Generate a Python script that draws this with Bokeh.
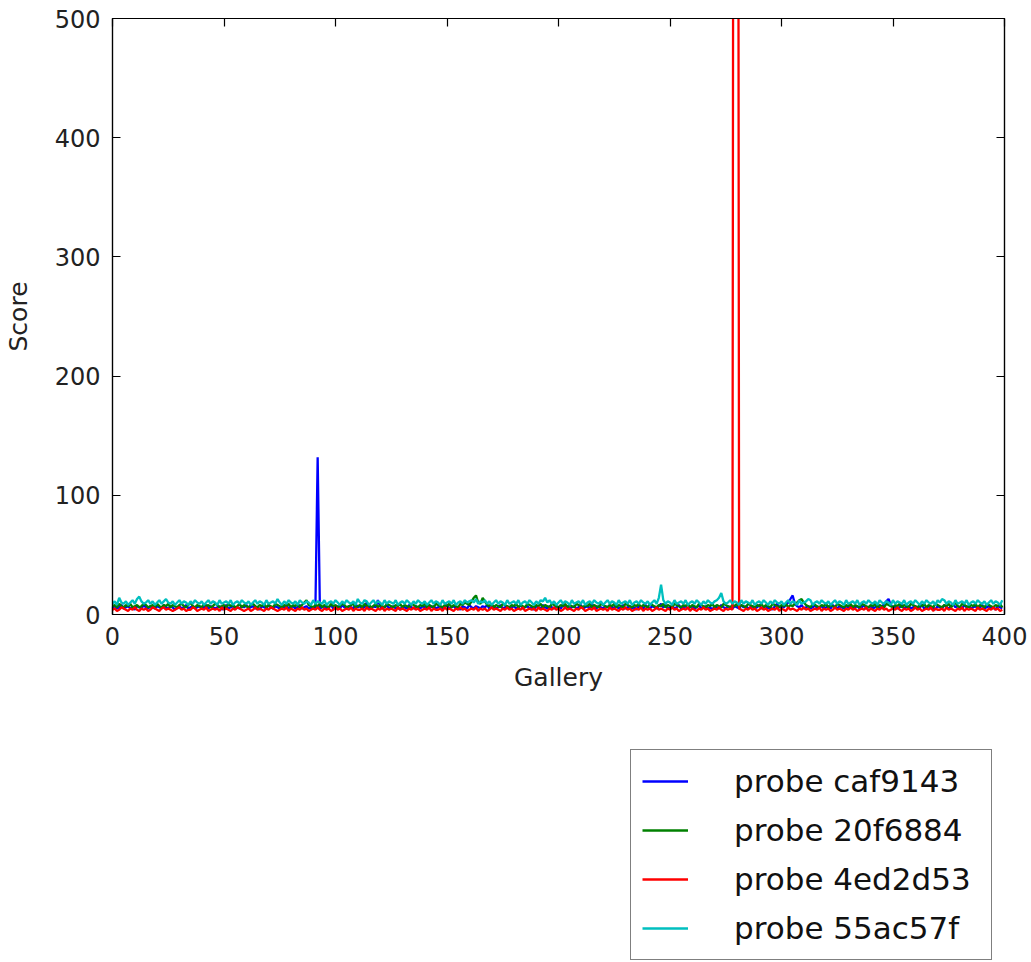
from bokeh.plotting import figure
from bokeh.layouts import column
from bokeh.models import Range1d, LinearAxis, Legend, LegendItem, FixedTicker, CustomJSTickFormatter
from bokeh.embed import file_html
from bokeh.resources import INLINE

series_names = ["probe caf9143", "probe 20f6884", "probe 4ed2d53", "probe 55ac57f"]
x_ticks = [0, 50, 100, 150, 200, 250, 300, 350, 400]
y_ticks = [0, 100, 200, 300, 400, 500]

probe_caf9143 = [
    6,7,5,6,8,5,6,7,5,6,4,7,6,5,8,6,5,7,6,5,
    7,6,5,8,6,5,7,6,4,6,7,5,6,8,5,6,7,5,6,7,
    5,6,8,5,7,6,5,6,7,4,6,8,5,6,7,5,6,5,7,6,
    8,5,6,7,5,6,4,7,6,5,8,6,5,7,6,5,7,6,8,5,
    6,7,5,6,8,5,6,7,5,6,5,6,132,5,6,7,5,6,8,5,
    6,7,5,8,6,5,7,6,5,9,6,7,5,6,10,6,5,7,6,12,
    7,5,6,8,5,6,7,5,6,4,7,6,5,8,6,5,7,6,5,7,
    6,5,8,6,7,5,6,7,5,6,8,5,6,7,5,6,4,7,6,5,
    8,6,5,7,6,5,7,6,8,5,6,7,5,6,8,5,6,7,5,6,
    7,5,6,8,5,6,7,5,6,4,7,6,5,8,6,5,7,6,5,7,
    6,5,8,6,7,5,6,7,5,6,8,5,6,7,5,9,6,5,7,6,
    5,7,6,8,5,6,7,5,6,8,5,6,7,5,6,4,7,6,5,8,
    6,5,7,6,5,7,9,6,8,5,6,7,5,6,8,5,6,7,5,6,
    7,5,6,8,5,6,7,5,6,4,7,6,5,8,6,5,7,6,5,7,
    6,5,8,6,7,5,6,7,5,6,8,5,6,7,5,6,4,7,9,6,
    7,6,8,10,13,16,9,7,6,8,5,6,7,5,6,8,5,6,7,5,
    6,7,5,8,6,5,7,6,5,7,6,8,5,6,7,5,6,8,5,6,
    7,5,6,8,5,6,9,11,13,8,6,7,5,6,8,5,6,7,5,6,
    7,5,6,8,5,6,7,5,6,4,7,6,5,8,6,5,7,9,6,7,
    6,5,8,6,7,5,6,7,5,6,8,5,6,7,5,6,4,7,6,5,
]

probe_20f6884 = [
    7,8,6,9,7,6,8,7,9,6,7,8,6,7,9,8,6,7,8,6,
    9,7,6,8,7,9,6,8,7,6,8,9,7,6,8,10,7,6,8,7,
    6,9,7,8,6,7,9,8,6,7,8,6,9,7,8,6,7,9,6,8,
    7,6,8,9,7,6,8,7,9,6,8,7,6,9,8,7,6,8,7,9,
    6,8,7,9,6,8,10,12,8,7,6,8,7,9,6,8,7,6,9,7,
    8,6,7,9,8,6,7,8,9,6,7,8,6,9,7,8,6,7,9,6,
    8,7,6,9,8,7,6,8,7,9,6,8,7,6,9,8,7,6,8,7,
    9,6,8,7,6,9,8,7,6,8,7,9,6,8,7,6,9,8,10,9,
    8,11,14,16,10,9,14,11,8,7,9,6,8,7,6,9,8,7,6,8,
    7,9,6,8,7,6,9,8,7,6,8,7,9,6,8,7,6,9,8,7,
    6,8,7,9,6,8,7,6,9,8,7,6,8,7,9,6,8,7,6,9,
    8,7,6,8,7,9,6,8,7,6,9,8,7,6,8,7,9,6,8,7,
    6,9,8,7,6,8,7,9,6,8,7,6,9,8,7,6,8,7,9,6,
    8,7,6,9,8,7,6,8,7,9,6,8,7,6,9,8,7,6,8,7,
    9,6,8,7,6,9,8,7,6,8,7,9,6,8,7,6,9,8,7,6,
    8,7,9,6,8,7,9,10,12,13,10,8,7,6,9,8,7,6,8,7,
    9,6,8,7,6,9,8,7,6,8,7,9,6,8,7,6,9,8,7,6,
    8,7,9,6,8,7,6,9,8,7,6,8,7,9,6,8,7,6,9,8,
    7,6,8,7,9,6,8,7,6,9,8,7,6,8,7,9,6,8,10,7,
    6,9,8,7,6,8,7,9,6,8,7,6,9,8,7,6,8,7,9,6,
]

probe_4ed2d53 = [
    4,5,3,4,6,5,4,3,5,4,6,4,3,5,4,5,3,4,6,5,
    4,3,5,6,4,5,4,3,4,5,6,4,5,3,4,4,6,5,3,4,
    5,4,6,3,4,5,4,5,3,6,4,5,4,3,5,4,6,5,4,3,
    4,5,3,4,6,4,5,4,3,5,4,6,5,4,3,4,5,4,6,3,
    5,4,3,5,4,6,4,5,3,4,5,4,6,4,3,5,4,5,3,4,
    6,4,5,3,4,5,4,6,3,5,4,4,5,3,6,4,5,4,3,5,
    4,6,3,5,4,5,4,3,6,4,5,4,3,5,4,6,4,5,3,4,
    5,4,6,3,5,4,4,5,3,6,4,5,4,3,5,4,6,4,5,3,
    4,5,4,6,3,5,4,5,3,4,6,4,5,4,3,5,4,6,4,5,
    3,4,5,4,6,3,4,5,4,5,3,6,4,5,4,3,5,4,6,4,
    5,3,4,6,4,5,4,3,5,4,6,5,3,4,5,4,6,3,4,5,
    4,5,3,6,4,5,4,3,5,4,6,4,5,3,4,5,4,6,3,5,
    4,5,3,4,6,4,5,4,3,5,4,6,4,5,3,4,5,4,6,3,
    5,4,3,5,4,6,4,5,3,4,5,4,6,4,3,5,4,5,4,1800,
    1750,5,4,3,5,4,6,4,5,3,4,6,4,5,3,4,5,4,6,3,
    5,4,3,6,4,5,4,3,5,4,6,4,5,3,4,5,4,6,3,5,
    4,5,3,4,6,4,5,4,3,5,4,6,4,5,3,4,5,4,6,3,
    5,4,3,5,4,6,4,5,3,4,5,4,6,4,3,5,4,5,3,4,
    6,4,5,3,4,5,4,6,3,5,4,4,5,3,6,4,5,4,3,5,
    4,6,3,5,4,5,4,3,6,4,5,4,3,5,4,6,4,5,3,4,
]

probe_55ac57f = [
    9,11,8,14,10,9,11,8,10,12,9,13,15,11,9,10,12,9,11,8,
    10,12,9,11,13,10,9,11,8,10,12,9,11,10,8,11,9,12,10,9,
    11,8,10,12,9,11,10,8,12,9,10,11,9,12,8,10,11,9,12,10,
    9,11,8,10,12,9,11,10,8,12,9,10,11,9,13,10,8,11,9,12,
    10,9,11,8,12,10,9,11,10,8,12,9,11,10,9,12,8,10,11,9,
    12,10,8,11,9,12,10,9,11,8,13,10,9,12,11,8,10,12,9,11,
    10,8,12,9,11,10,9,12,8,10,11,9,12,10,8,11,9,12,10,9,
    11,8,10,12,9,11,10,8,12,9,10,11,9,12,8,10,11,9,12,10,
    11,12,10,13,9,11,10,12,9,11,8,10,12,9,11,10,8,12,9,10,
    11,9,12,8,10,11,9,12,10,8,11,9,12,11,14,10,12,9,11,8,
    10,12,9,11,10,8,12,9,10,11,9,12,8,10,11,9,12,10,9,11,
    8,10,12,9,11,10,8,12,9,10,11,9,12,8,10,11,9,12,10,9,
    11,8,10,12,9,14,25,12,9,11,10,8,12,9,10,11,9,12,8,10,
    11,9,12,10,8,11,9,12,10,9,11,12,14,18,11,9,10,12,9,11,
    10,8,12,9,11,10,9,12,8,10,11,9,12,10,8,11,9,12,10,9,
    11,8,10,12,9,11,10,8,12,9,10,11,13,12,8,10,11,9,12,10,
    9,11,8,10,12,9,11,10,8,12,9,10,11,9,12,8,10,11,9,12,
    10,9,11,8,12,10,9,11,10,8,12,9,11,10,9,12,8,10,11,9,
    12,10,8,11,9,12,10,9,11,8,12,10,13,12,9,11,10,8,12,9,
    10,11,9,12,8,10,11,9,12,10,9,11,8,10,12,9,11,10,8,12,
]

gallery = list(range(len(probe_caf9143)))
series = [probe_caf9143, probe_20f6884, probe_4ed2d53, probe_55ac57f]
colors = ["#0000ff", "#008000", "#ff0000", "#00bfbf"]

FONT = "DejaVu Sans"

# ---- main chart ----
p = figure(width=1031, height=700, output_backend="svg", toolbar_location=None,
           x_range=Range1d(0, 400), y_range=Range1d(0, 500),
           min_border_left=112, min_border_right=27, min_border_top=18, min_border_bottom=86)
p.grid.visible = False
p.outline_line_color = "black"
p.outline_line_width = 1.2
p.background_fill_color = "white"
p.border_fill_color = "white"

for ys, c in zip(series, colors):
    p.line(gallery, ys, line_color=c, line_width=2.3)

def style_axis(ax):
    ax.axis_line_color = "black"
    ax.axis_line_width = 1.2
    ax.major_tick_in = 8
    ax.major_tick_out = 0
    ax.major_tick_line_color = "black"
    ax.major_tick_line_width = 1.2
    ax.minor_tick_line_color = None
    ax.major_label_text_font = FONT
    ax.major_label_text_font_size = "24px"
    ax.major_label_text_color = "#222222"
    ax.major_label_standoff = 12
    ax.axis_label_text_font = FONT
    ax.axis_label_text_font_size = "25px"
    ax.axis_label_text_font_style = "normal"
    ax.axis_label_text_color = "#222222"

xa = p.xaxis[0]
xa.ticker = FixedTicker(ticks=x_ticks)
xa.axis_label = "Gallery"
style_axis(xa)
xa.axis_label_standoff = 15

ya = p.yaxis[0]
ya.ticker = FixedTicker(ticks=y_ticks)
ya.axis_label = "Score"
style_axis(ya)
ya.axis_label_standoff = 19

empty = CustomJSTickFormatter(code="return ''")
top = LinearAxis(ticker=FixedTicker(ticks=x_ticks), formatter=empty)
style_axis(top)
top.major_label_text_font_size = "0px"
top.major_label_standoff = 0
p.add_layout(top, "above")
right = LinearAxis(ticker=FixedTicker(ticks=y_ticks), formatter=empty)
style_axis(right)
right.major_label_text_font_size = "0px"
right.major_label_standoff = 0
p.add_layout(right, "right")

# ---- legend panel below the chart (series drawn out of its view, only legend shows) ----
lg = figure(width=1031, height=262, output_backend="svg", toolbar_location=None,
            x_axis_type=None, y_axis_type=None, min_border=0,
            x_range=Range1d(-1001, -1000), y_range=Range1d(-1001, -1000))
lg.grid.visible = False
lg.outline_line_color = None
lg.background_fill_color = "white"
lg.border_fill_color = "white"
proxies = [lg.line(gallery, ys, line_color=c, line_width=2.3) for ys, c in zip(series, colors)]

legend = Legend(items=[LegendItem(label=n, renderers=[r]) for n, r in zip(series_names, proxies)],
                location=(518, 2))
legend.label_text_font = FONT
legend.label_text_font_size = "31px"
legend.label_text_color = "#111111"
legend.glyph_width = 46
legend.glyph_height = 40
legend.label_height = 40
legend.label_width = 246
legend.label_standoff = 46
legend.spacing = 9
legend.padding = 11
legend.margin = 0
legend.border_line_color = "black"
legend.border_line_width = 1.2
legend.background_fill_color = "white"
legend.background_fill_alpha = 1.0
lg.add_layout(legend, "center")

layout = column(p, lg, spacing=0)
open("out.html", "w").write(file_html(layout, INLINE))
